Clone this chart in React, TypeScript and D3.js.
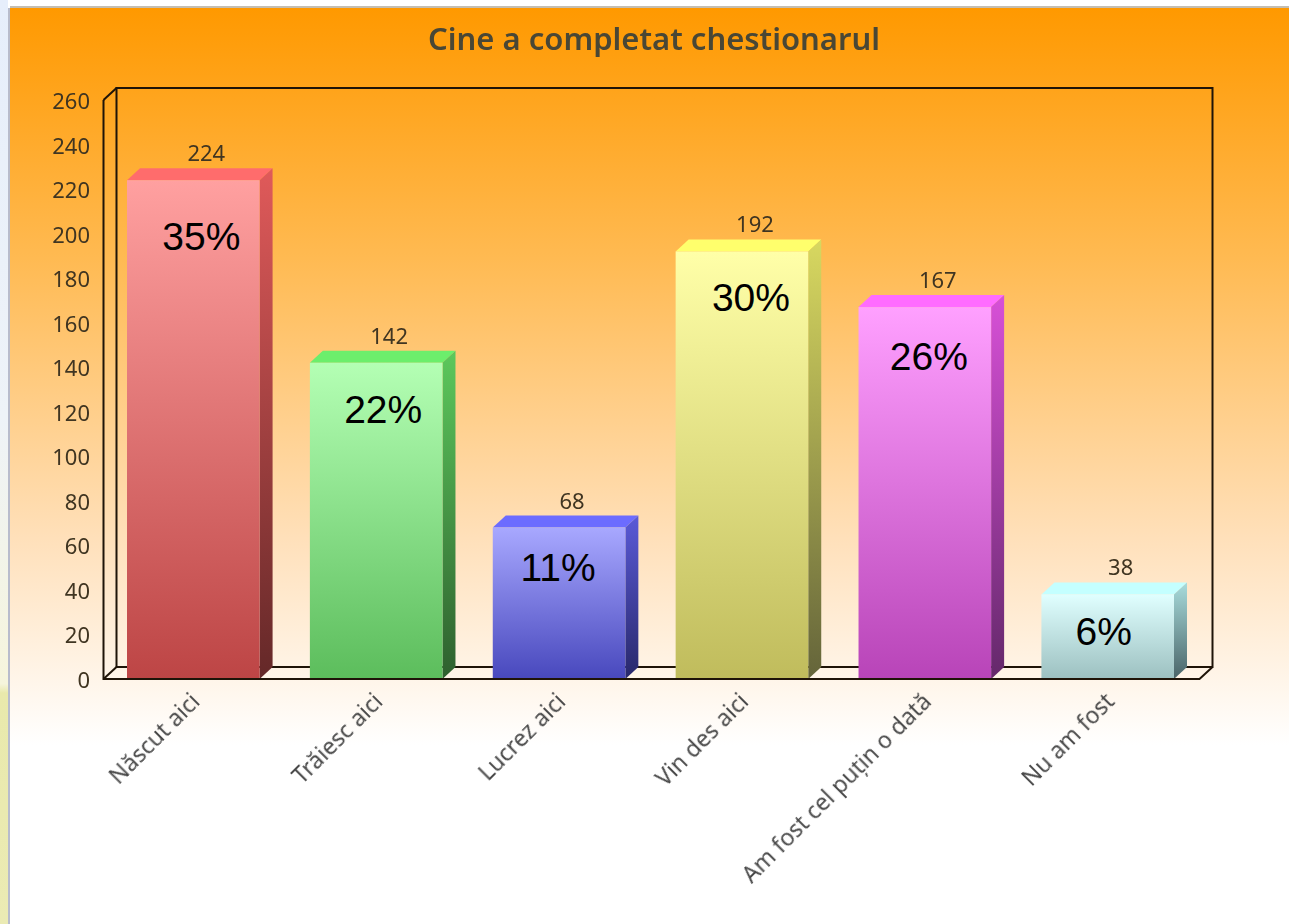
import React from "react";
import * as d3 from "d3";

const title = "Cine a completat chestionarul";
const categories = ["Născut aici", "Trăiesc aici", "Lucrez aici", "Vin des aici", "Am fost cel puțin o dată", "Nu am fost"];
const values = [224, 142, 68, 192, 167, 38];
const percents = ["35%", "22%", "11%", "30%", "26%", "6%"];
const yTicks = d3.range(0, 261, 20);
const frontTop = ["#ffa0a0", "#b4ffb4", "#a8a8ff", "#ffffa8", "#ffa0ff", "#e0ffff"];
const frontBottom = ["#bd4545", "#5cbd5c", "#4848bd", "#c0bc5c", "#b844b8", "#9cc0c0"];
const sideTop = ["#e05a5a", "#5cc85c", "#5a5ad8", "#d8d860", "#d850d8", "#a8dcdc"];
const sideBottom = ["#642828", "#2e602e", "#28286a", "#64643a", "#64286a", "#4a6468"];
const roof = ["#ff6c6c", "#6cee6c", "#6c6cff", "#ffff6c", "#ff6cff", "#c4ffff"];

const W = 1289, H = 924;
const DX = 13, DY = 12;
const y = d3.scaleLinear().domain([0, 260]).range([679, 100]);
const x = d3.scaleBand<number>().domain(d3.range(categories.length)).range([127, 1174]).paddingInner(0.275).paddingOuter(0);
const left = 103.5, right = 1199.5;
const ink = "#1f1408";
const uiFont = "'Noto Sans','Open Sans',sans-serif";

// pasted percentage annotations sit at hand-placed offsets from each bar
const pctDx = [8, 7, -1, 9, 4, -4];
const pctDy = [70, 60, 53, 60, 63, 51];

export default function App() {
  const base = y(0), top = y(260);
  const bw = x.bandwidth();
  return (
    <svg width={W} height={H} viewBox={`0 0 ${W} ${H}`} style={{ position: "fixed", left: 0, top: 0, display: "block" }}>
      <defs>
        <linearGradient id="bg" x1="0" y1="0" x2="0" y2="1">
          <stop offset="0" stopColor="#ff9900" />
          <stop offset="0.34" stopColor="#ffba52" />
          <stop offset="0.72" stopColor="#ffe0ba" />
          <stop offset="1" stopColor="#ffffff" />
        </linearGradient>
        <linearGradient id="strip" x1="0" y1="0" x2="0" y2="1">
          <stop offset="0" stopColor="#e6eefb" />
          <stop offset="0.45" stopColor="#eef3f8" />
          <stop offset="0.74" stopColor="#f6f5dc" />
          <stop offset="0.75" stopColor="#e9e9ac" />
          <stop offset="1" stopColor="#ebebb4" />
        </linearGradient>
        <filter id="soft" x="-5%" y="-20%" width="110%" height="140%">
          <feGaussianBlur stdDeviation="0.45" />
        </filter>
        {categories.map((_, i) => (
          <React.Fragment key={i}>
            <linearGradient id={`f${i}`} x1="0" y1="0" x2="0" y2="1">
              <stop offset="0" stopColor={frontTop[i]} />
              <stop offset="1" stopColor={frontBottom[i]} />
            </linearGradient>
            <linearGradient id={`s${i}`} x1="0" y1="0" x2="0" y2="1">
              <stop offset="0" stopColor={sideTop[i]} />
              <stop offset="1" stopColor={sideBottom[i]} />
            </linearGradient>
          </React.Fragment>
        ))}
      </defs>

      <rect width={W} height={H} fill="#ffffff" />
      <rect x={0} y={0} width={8} height={H} fill="url(#strip)" />
      <rect x={8} y={7} width={W - 8} height={H - 7} fill="#ffffff" />
      <line x1={9} y1={8} x2={9} y2={H} stroke="#b8bccc" strokeWidth={2} />
      <line x1={10} y1={7} x2={W} y2={7} stroke="#b0a898" strokeWidth={1.5} />
      <rect x={10} y={8} width={W - 10} height={737} fill="url(#bg)" />

      <text x={654} y={50} textAnchor="middle" fontFamily={uiFont} fontSize={31} fontWeight={600} fill="#4a4636" filter="url(#soft)">{title}</text>

      <g fill="none" stroke={ink} strokeWidth={2}>
        <rect x={left + DX} y={top - DY} width={right - left} height={base - top} />
        <path d={`M${left},${top}V${base}H${right}L${right + DX},${base - DY}`} />
        <path d={`M${left},${top}L${left + DX},${top - DY}`} />
        <path d={`M${left},${base}L${left + DX},${base - DY}`} />
      </g>

      <g fontFamily={uiFont} fontSize={22} fill="#3f3420" textAnchor="end" filter="url(#soft)">
        {yTicks.map(t => (
          <text key={t} x={90} y={y(t) + 9}>{t}</text>
        ))}
      </g>

      {categories.map((c, i) => {
        const x0 = x(i)!, yv = y(values[i]);
        const cx = x0 + bw / 2;
        return (
          <g key={c}>
            <polygon points={`${x0},${yv} ${x0 + DX},${yv - DY} ${x0 + bw + DX},${yv - DY} ${x0 + bw},${yv}`} fill={roof[i]} />
            <polygon points={`${x0 + bw},${yv} ${x0 + bw + DX},${yv - DY} ${x0 + bw + DX},${base - DY} ${x0 + bw},${base}`} fill={`url(#s${i})`} />
            <rect x={x0} y={yv} width={bw} height={base - yv} fill={`url(#f${i})`} />
            <text x={cx + DX} y={yv - 19} textAnchor="middle" fontFamily={uiFont} fontSize={22} fill="#3f3420" filter="url(#soft)">{values[i]}</text>
            <text x={cx + pctDx[i]} y={yv + pctDy[i]} textAnchor="middle" fontFamily="'Liberation Sans',Arial,sans-serif" fontSize={39} fill="#000000">{percents[i]}</text>
            <text transform={`translate(${cx + 8},${base + 24}) rotate(-45)`} textAnchor="end" fontFamily={uiFont} fontSize={23} fill="#4a4a4a" filter="url(#soft)">{c}</text>
          </g>
        );
      })}
      <line x1={left} y1={base} x2={right} y2={base} stroke={ink} strokeWidth={2} />
    </svg>
  );
}
